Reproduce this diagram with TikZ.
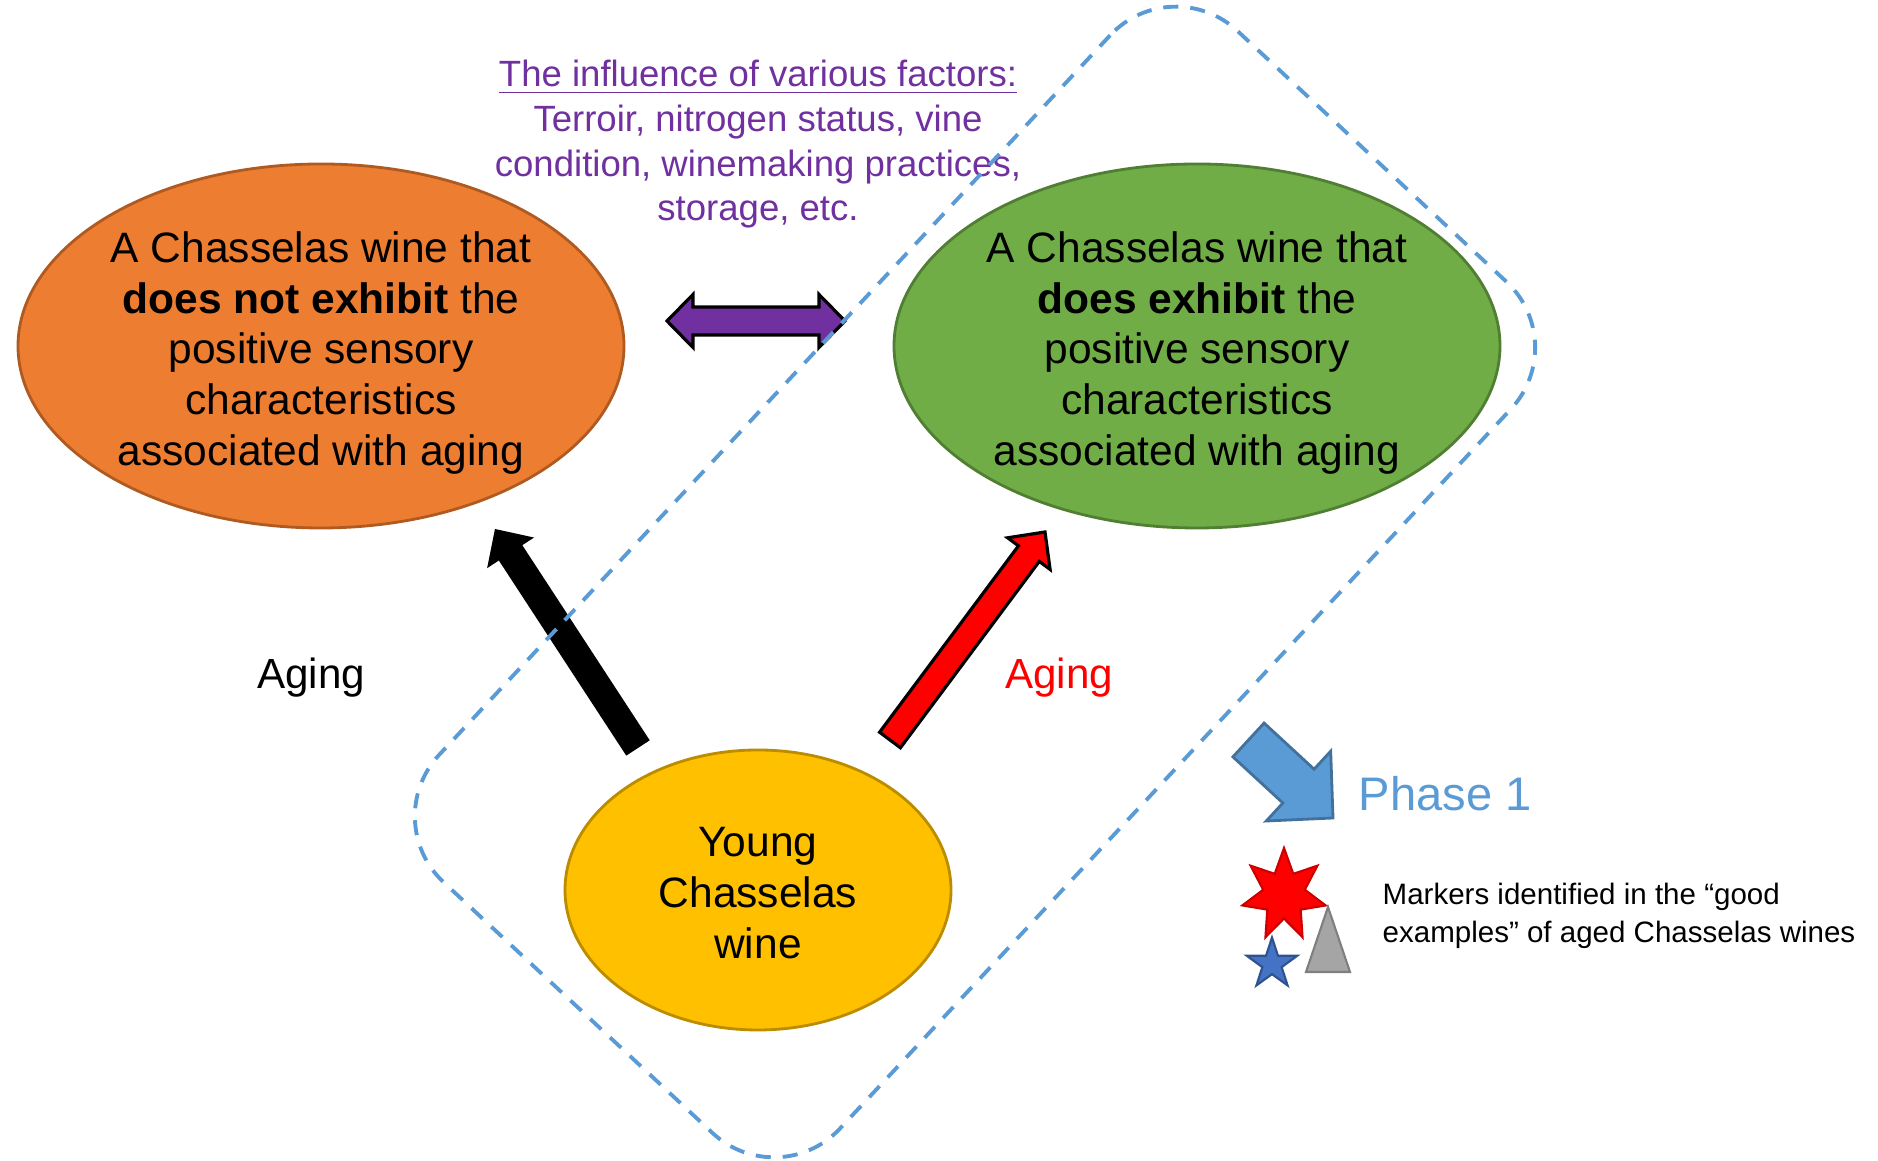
\documentclass[tikz,border=0pt]{standalone}
\usepackage{fontspec}
\setmainfont{Liberation Sans}
\usetikzlibrary{shapes.geometric,calc,positioning}

\definecolor{wineorange}{HTML}{ED7D31}
\definecolor{wineorangeedge}{HTML}{AE5A21}
\definecolor{winegreen}{HTML}{70AD47}
\definecolor{winegreenedge}{HTML}{507E32}
\definecolor{wineyellow}{HTML}{FFC000}
\definecolor{wineyellowedge}{HTML}{BC8C00}
\definecolor{factorpurple}{HTML}{7030A0}
\definecolor{phaseblue}{HTML}{5B9BD5}
\definecolor{phaseblueedge}{HTML}{41719C}
\definecolor{starblue}{HTML}{4472C4}
\definecolor{starblueedge}{HTML}{2F528F}
\definecolor{markergray}{HTML}{A5A5A5}
\definecolor{markergrayedge}{HTML}{7F7F7F}

% block arrow: style, from, to, half shaft, half head, head length
\newcommand{\blockarrow}[6]{%
  \coordinate (ba-base) at ($(#3)!#6!(#2)$);
  \path[#1] ($(#2)!#4!90:(#3)$) -- ($(ba-base)!#4!90:(#3)$)
    -- ($(ba-base)!#5!90:(#3)$) -- (#3) -- ($(ba-base)!#5!-90:(#3)$)
    -- ($(ba-base)!#4!-90:(#3)$) -- ($(#2)!#4!-90:(#3)$) -- cycle;
}

\begin{document}
\begin{tikzpicture}[line join=miter]
    \tikzstyle{wine}=[ellipse, minimum width=6.06cm, minimum height=3.64cm, inner sep=0pt,
        line width=0.8pt]
    \tikzstyle{wine text}=[inner sep=0pt, align=center, font=\fontsize{12.1}{14.5}\selectfont]
    \tikzstyle{young wine}=[wine, fill=wineyellow, draw=wineyellowedge,
        minimum width=3.86cm, minimum height=2.80cm]
    \tikzstyle{phase box}=[draw=phaseblue, line width=1.1pt, dash pattern=on 4.3pt off 3.4pt,
        rounded corners=0.9cm, minimum width=11.64cm, minimum height=5.48cm, inner sep=0pt]
    \tikzstyle{label}=[inner sep=0pt, font=\fontsize{12}{14}\selectfont]
    \tikzstyle{marker}=[line width=0.6pt, inner sep=0pt]

    \useasboundingbox (0,0) rectangle (18.78,11.61);

    % factors text
    \node[align=center, inner sep=0pt, text=factorpurple, font=\fontsize{10.4}{12.7}\selectfont]
        (factors) at (7.58,10.165)
        {\underline{The influence of various factors:}\\Terroir, nitrogen status, vine\\
         condition, winemaking practices,\\storage, etc.};

    % arrows
    \coordinate (dbl-l) at (6.67,8.40);
    \coordinate (dbl-r) at (8.45,8.40);
    \coordinate (da-l) at ($(dbl-l)!0.26cm!(dbl-r)$);
    \coordinate (da-r) at ($(dbl-r)!0.26cm!(dbl-l)$);
    \filldraw[fill=factorpurple, draw=black, line width=0.9pt]
        (dbl-l) -- ($(da-l)!0.265cm!90:(dbl-r)$) -- ($(da-l)!0.14cm!90:(dbl-r)$)
        -- ($(da-r)!0.14cm!-90:(dbl-l)$) -- ($(da-r)!0.265cm!-90:(dbl-l)$) -- (dbl-r)
        -- ($(da-r)!0.265cm!90:(dbl-l)$) -- ($(da-r)!0.14cm!90:(dbl-l)$)
        -- ($(da-l)!0.14cm!-90:(dbl-r)$) -- ($(da-l)!0.265cm!-90:(dbl-r)$) -- cycle;

    \coordinate (black-from) at (6.38,4.13);
    \coordinate (black-to) at (4.95,6.32);
    \blockarrow{fill=black}{black-from}{black-to}{0.14cm}{0.28cm}{0.285cm}

    \coordinate (red-from) at (8.90,4.21);
    \coordinate (red-to) at (10.45,6.29);
    \blockarrow{fill=red, draw=black, line width=0.9pt}{red-from}{red-to}{0.13cm}{0.265cm}{0.27cm}

    \node[label] (aging-l) at (3.11,4.83) {Aging};
    \node[label, text=red] (aging-r) at (10.59,4.83) {Aging};

    % dashed phase 1 frame
    \node[phase box, rotate=47] (phase) at (9.75,5.79) {};

    % wines
    \node[wine, fill=wineorange, draw=wineorangeedge] (not-aged) at (3.21,8.15) {};
    \node[wine text] (not-aged-text) at ([yshift=-0.07cm]not-aged.center)
        {A Chasselas wine that\\\textbf{does not exhibit} the\\positive sensory\\characteristics\\associated with aging};
    \node[wine, fill=winegreen, draw=winegreenedge] (aged) at (11.97,8.15) {};
    \node[wine text] (aged-text) at ([yshift=-0.07cm]aged.center)
        {A Chasselas wine that\\\textbf{does exhibit} the\\positive sensory\\characteristics\\associated with aging};
    \node[young wine] (young) at (7.58,2.71) {};
    \node[wine text] (young-text) at ([yshift=-0.035cm]young.center) {Young\\Chasselas\\wine};

    % legend
    \coordinate (phase-from) at (12.485,4.21);
    \coordinate (phase-to) at (13.33,3.43);
    \blockarrow{fill=phaseblue, draw=phaseblueedge, line width=0.8pt}{phase-from}{phase-to}{0.23cm}{0.475cm}{0.47cm}
    \node[anchor=west, inner sep=0pt, text=phaseblue, font=\fontsize{13.4}{16}\selectfont]
        (phase-text) at (13.58,3.67) {Phase 1};

    \node[marker, star, star points=7, star point ratio=2, minimum size=0.94cm, xscale=0.91,
        fill=red, draw=red!80!black] (red-star) at (12.84,2.66) {};
    \node[marker, star, star points=5, star point ratio=2.6, minimum size=0.53cm,
        fill=starblue, draw=starblueedge] (blue-star) at (12.72,1.97) {};
    \filldraw[marker, fill=markergray, draw=markergrayedge] (13.28,2.54) -- (13.50,1.89) -- (13.06,1.89) -- cycle;

    \node[anchor=west, align=left, inner sep=0pt, font=\fontsize{8.4}{10.7}\selectfont]
        (markers) at (13.82,2.45) {Markers identified in the “good\\examples” of aged Chasselas wines};
\end{tikzpicture}
\end{document}
